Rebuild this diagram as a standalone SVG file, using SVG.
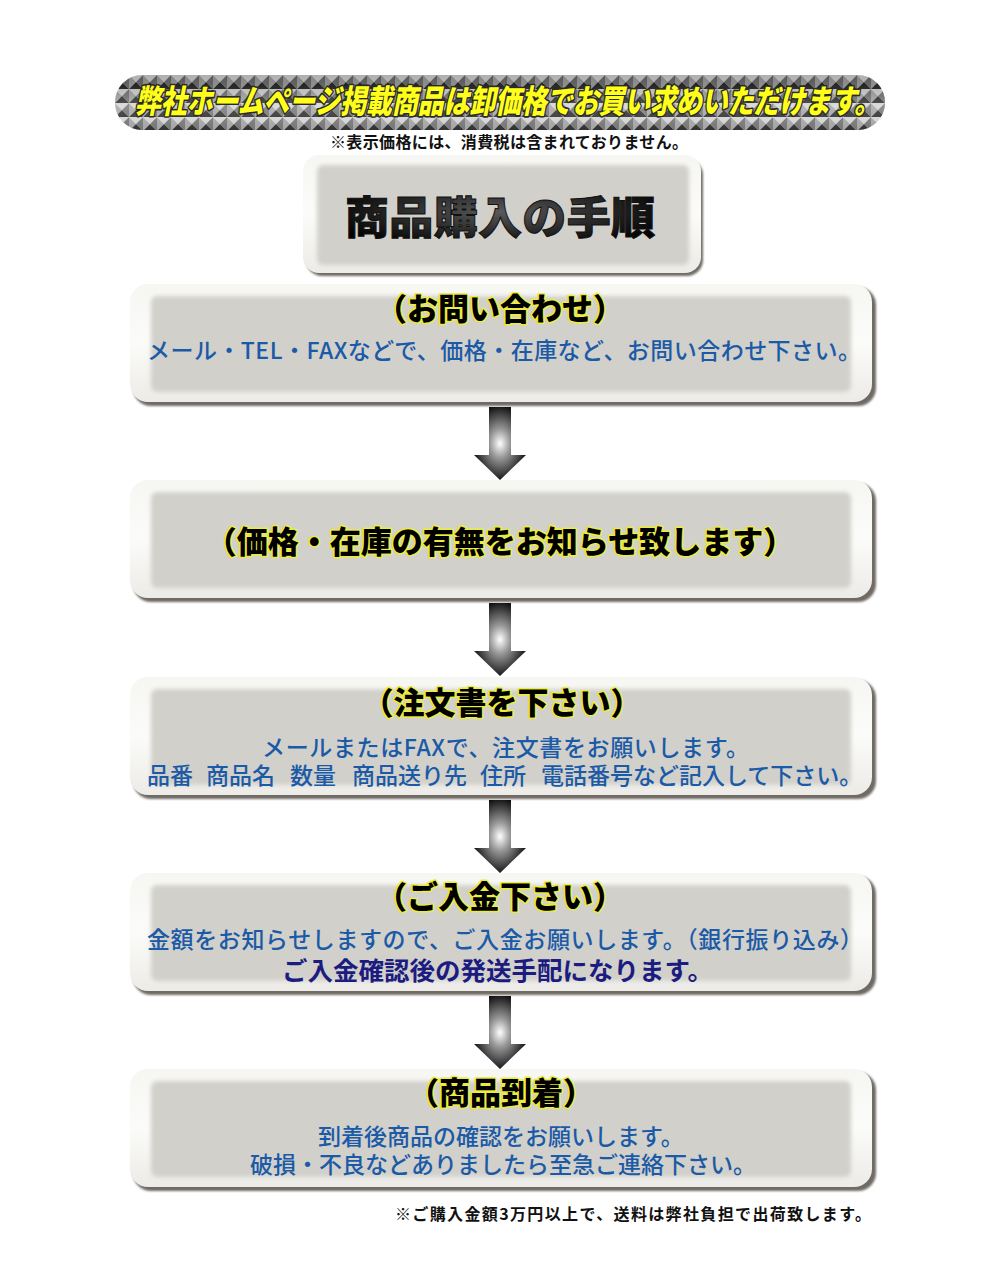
<svg xmlns="http://www.w3.org/2000/svg" width="1000" height="1286" viewBox="0 0 1000 1286">
<defs>
  <pattern id="studs" x="115" y="75" width="14" height="14" patternUnits="userSpaceOnUse">
    <polygon points="0,0 14,0 7,7" fill="#cfcfcf"/>
    <polygon points="0,0 0,14 7,7" fill="#9c9c9c"/>
    <polygon points="14,0 14,14 7,7" fill="#686868"/>
    <polygon points="0,14 14,14 7,7" fill="#1c1c1c"/>
  </pattern>
  <linearGradient id="bandShade" x1="0" y1="0" x2="0" y2="1">
    <stop offset="0" stop-color="#000" stop-opacity="0.15"/>
    <stop offset="0.55" stop-color="#fff" stop-opacity="0.25"/>
    <stop offset="1" stop-color="#fff" stop-opacity="0.1"/>
  </linearGradient>
  <radialGradient id="arrowGrad" cx="0.5" cy="0.5" r="0.55">
    <stop offset="0" stop-color="#ffffff"/>
    <stop offset="0.35" stop-color="#9a9a9a"/>
    <stop offset="1" stop-color="#050505"/>
  </radialGradient>
  <radialGradient id="titleGrad" cx="0.5" cy="0.45" r="0.6">
    <stop offset="0" stop-color="#5a5a5a"/>
    <stop offset="1" stop-color="#000"/>
  </radialGradient>
  <linearGradient id="bevel" x1="0" y1="0" x2="0" y2="1">
    <stop offset="0" stop-color="#f6f6f3"/>
    <stop offset="0.5" stop-color="#fbfbf9"/>
    <stop offset="1" stop-color="#ecebe7"/>
  </linearGradient>
  <filter id="soft" x="-5%" y="-10%" width="110%" height="120%">
    <feGaussianBlur stdDeviation="2"/>
  </filter>
  <filter id="shadowBlur" x="-5%" y="-10%" width="110%" height="120%">
    <feGaussianBlur stdDeviation="1.2"/>
  </filter>
</defs>
<style>
  .shadow { fill:#6f6b65; filter:url(#shadowBlur); }
  .outer { fill:url(#bevel); }
  .inner { fill:#d1d0cb; filter:url(#soft); }
  .banner { font-family:"Noto Sans CJK JP","Noto Sans",sans-serif; font-weight:900; font-style:italic; font-size:26px; fill:#ffff1a; stroke:#2a2a2a; stroke-width:2.5; paint-order:stroke; stroke-linejoin:round; }
  .note { font-family:"Noto Sans CJK JP","Noto Sans",sans-serif; font-weight:700; font-size:16px; fill:#111; }
  .maintitle { font-family:"Noto Sans CJK JP","Noto Sans",sans-serif; font-weight:900; font-size:44px; fill:url(#titleGrad); stroke:#111; stroke-width:1; }
  .stitle { font-family:"Noto Sans CJK JP","Noto Sans",sans-serif; font-weight:900; font-size:31px; fill:#000; stroke:#ecec3a; stroke-width:3; paint-order:stroke; stroke-linejoin:round; }
  .body { font-family:"Noto Sans CJK JP","Noto Sans",sans-serif; font-weight:500; font-size:23px; fill:#1b5aa6; }
  .navy { font-family:"Noto Sans CJK JP","Noto Sans",sans-serif; font-weight:700; font-size:25.5px; fill:#1c1c80; }
  .arrow { fill:url(#arrowGrad); }
</style>
<rect width="1000" height="1286" fill="#ffffff"/>

<g id="banner">
  <rect x="115" y="75" width="770" height="55" rx="27" fill="url(#studs)"/>
  <rect x="115" y="75" width="770" height="55" rx="27" fill="url(#bandShade)"/>
  <text class="banner" transform="translate(0,113) scale(1,1.25)" x="135" y="0" textLength="745" lengthAdjust="spacingAndGlyphs">弊社ホームページ掲載商品は卸価格でお買い求めいただけます。</text>
</g>

<g id="tax-note">
  <text class="note" x="330" y="148" textLength="358">※表示価格には、消費税は含まれておりません。</text>
</g>

<g id="title-box">
  <rect class="shadow" x="306" y="159" width="397" height="117" rx="16"/>
  <rect class="outer" x="303" y="155" width="398" height="118" rx="16"/>
  <rect class="inner" x="317" y="165" width="372" height="100" rx="6"/>
  <text class="maintitle" x="500" y="234" text-anchor="middle" textLength="310">商品購入の手順</text>
</g>

<g id="step1">
  <rect class="shadow" x="133" y="287" width="743" height="119" rx="18"/>
  <rect class="outer" x="130" y="284" width="742" height="118" rx="18"/>
  <rect class="inner" x="151" y="296" width="700" height="96" rx="6"/>
  <text class="stitle" x="500" y="320" text-anchor="middle">（お問い合わせ）</text>
  <text class="body" x="147" y="359" font-size="22" textLength="714">メール・TEL・FAXなどで、価格・在庫など、お問い合わせ下さい。</text>
</g>

<g id="step2">
  <rect class="shadow" x="133" y="483" width="743" height="119" rx="18"/>
  <rect class="outer" x="130" y="480" width="742" height="118" rx="18"/>
  <rect class="inner" x="151" y="492" width="700" height="96" rx="6"/>
  <text class="stitle" x="500" y="553" text-anchor="middle" font-size="30">（価格・在庫の有無をお知らせ致します）</text>
</g>

<g id="step3">
  <rect class="shadow" x="133" y="680" width="743" height="119" rx="18"/>
  <rect class="outer" x="130" y="677" width="742" height="118" rx="18"/>
  <rect class="inner" x="151" y="689" width="700" height="96" rx="6"/>
  <text class="stitle" x="502" y="714" text-anchor="middle">（注文書を下さい）</text>
  <text class="body" x="262" y="756" textLength="487">メールまたはFAXで、注文書をお願いします。</text>
  <text class="body" y="784" font-size="22.5"><tspan x="147">品番</tspan><tspan x="206">商品名</tspan><tspan x="290">数量</tspan><tspan x="352">商品送り先</tspan><tspan x="480">住所</tspan><tspan x="541">電話番号など記入して下さい。</tspan></text>
</g>

<g id="step4">
  <rect class="shadow" x="133" y="876" width="743" height="119" rx="18"/>
  <rect class="outer" x="130" y="873" width="742" height="118" rx="18"/>
  <rect class="inner" x="151" y="885" width="700" height="96" rx="6"/>
  <text class="stitle" x="500" y="908" text-anchor="middle">（ご入金下さい）</text>
  <text class="body" x="147" y="948" textLength="716">金額をお知らせしますので、ご入金お願いします。（銀行振り込み）</text>
  <text class="navy" x="282" y="980">ご入金確認後の発送手配になります。</text>
</g>

<g id="step5">
  <rect class="shadow" x="133" y="1072" width="743" height="119" rx="18"/>
  <rect class="outer" x="130" y="1069" width="742" height="118" rx="18"/>
  <rect class="inner" x="151" y="1081" width="700" height="96" rx="6"/>
  <text class="stitle" x="501" y="1104" text-anchor="middle">（商品到着）</text>
  <text class="body" x="318" y="1145">到着後商品の確認をお願いします。</text>
  <text class="body" x="250" y="1173">破損・不良などありましたら至急ご連絡下さい。</text>
</g>

<g id="shipping-note">
  <text class="note" x="395" y="1220" font-size="17" textLength="476">※ご購入金額3万円以上で、送料は弊社負担で出荷致します。</text>
</g>

<g id="connectors">
  <path class="arrow" d="M489,407 L511,407 L511,455 L526,455 L500,480 L474,455 L489,455 Z"/>
  <path class="arrow" d="M489,603 L511,603 L511,651 L526,651 L500,676 L474,651 L489,651 Z"/>
  <path class="arrow" d="M489,800 L511,800 L511,848 L526,848 L500,873 L474,848 L489,848 Z"/>
  <path class="arrow" d="M489,996 L511,996 L511,1044 L526,1044 L500,1069 L474,1044 L489,1044 Z"/>
</g>
</svg>
